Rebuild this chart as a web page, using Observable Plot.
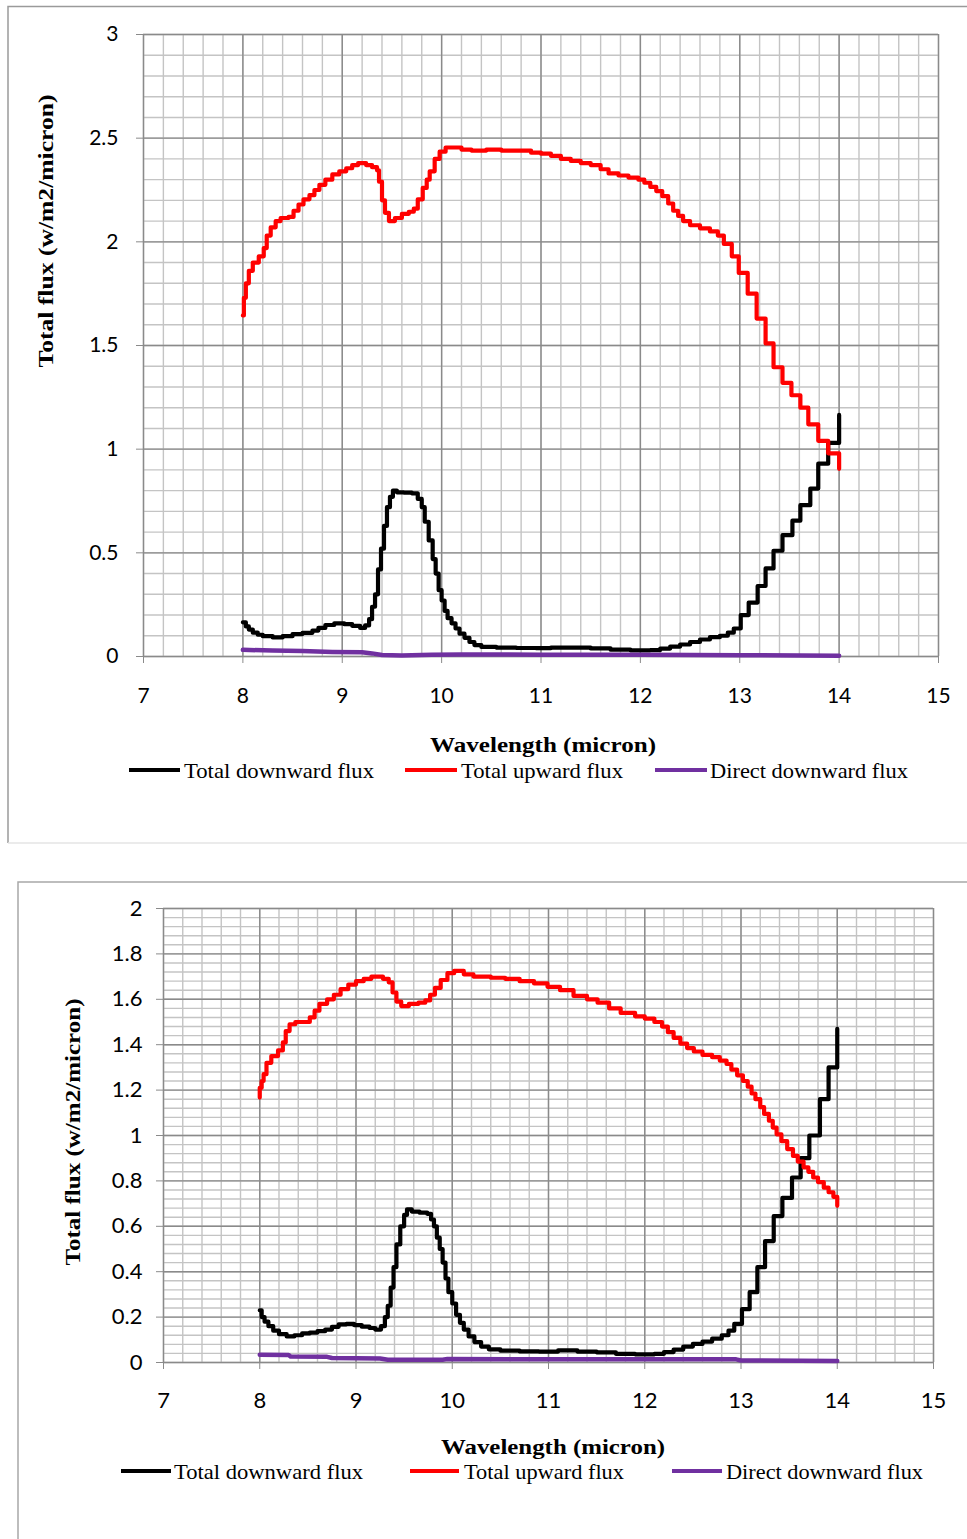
<!DOCTYPE html>
<html>
<head>
<meta charset="utf-8">
<script src="https://cdn.jsdelivr.net/npm/d3@7"></script>
<script src="https://cdn.jsdelivr.net/npm/@observablehq/plot@0.6"></script>
<style>
  html, body { margin: 0; padding: 0; background: #fff; }
  body { width: 967px; height: 1539px; position: relative; overflow: hidden; }
  .chart { position: absolute; left: 0; }
  #overlay { position: absolute; left: 0; top: 0; pointer-events: none; }
</style>
</head>
<body>
<div id="top" class="chart" style="top:0px"></div>
<div id="bottom" class="chart" style="top:870px"></div>
<svg id="overlay" width="967" height="1539"></svg>
<script>
// ---- shared axis values ----
const xTicks = [7, 8, 9, 10, 11, 12, 13, 14, 15];
const yTicksTop = [0, 0.5, 1, 1.5, 2, 2.5, 3];
const yTicksBottom = [0, 0.2, 0.4, 0.6, 0.8, 1, 1.2, 1.4, 1.6, 1.8, 2];

// ---- upper panel: [wavelength (micron), flux (W/m2/micron)] ----
const topDownward = [
  [8.00,0.165],[8.03,0.145],[8.06,0.13],[8.10,0.115],[8.15,0.105],[8.20,0.098],[8.30,0.092],
  [8.40,0.098],[8.50,0.108],[8.60,0.114],[8.70,0.125],[8.76,0.138],[8.83,0.152],[8.92,0.16],
  [9.02,0.156],[9.10,0.148],[9.18,0.138],[9.23,0.15],[9.27,0.18],[9.30,0.24],[9.33,0.30],
  [9.36,0.42],[9.39,0.52],[9.42,0.63],[9.45,0.72],[9.48,0.77],[9.51,0.80],[9.55,0.792],
  [9.62,0.79],[9.70,0.787],[9.76,0.76],[9.80,0.72],[9.83,0.65],[9.87,0.56],[9.91,0.47],
  [9.94,0.40],[9.97,0.32],[10.00,0.27],[10.03,0.22],[10.06,0.185],[10.10,0.16],[10.14,0.135],
  [10.18,0.11],[10.23,0.09],[10.28,0.07],[10.33,0.055],[10.40,0.046],[10.55,0.043],[10.75,0.041],
  [10.95,0.040],[11.10,0.043],[11.30,0.043],[11.50,0.039],[11.70,0.033],[11.90,0.030],[12.10,0.031],
  [12.20,0.038],[12.30,0.048],[12.40,0.058],[12.50,0.07],[12.60,0.082],[12.70,0.093],[12.80,0.10],
  [12.88,0.115],[12.94,0.135],[13.01,0.20],[13.09,0.26],[13.18,0.34],[13.26,0.425],[13.34,0.51],
  [13.43,0.585],[13.53,0.655],[13.61,0.73],[13.71,0.81],[13.79,0.93],[13.89,1.03],[14.00,1.165]
];
const topUpward = [
  [8.00,1.645],[8.01,1.73],[8.03,1.80],[8.06,1.86],[8.10,1.90],[8.16,1.93],[8.21,1.97],[8.24,2.03],
  [8.28,2.07],[8.33,2.10],[8.38,2.115],[8.46,2.12],[8.51,2.15],[8.56,2.18],[8.61,2.205],[8.67,2.225],
  [8.72,2.25],[8.77,2.275],[8.83,2.30],[8.90,2.325],[8.97,2.34],[9.04,2.355],[9.10,2.37],[9.16,2.38],
  [9.24,2.37],[9.30,2.36],[9.35,2.345],[9.37,2.29],[9.40,2.20],[9.43,2.14],[9.47,2.10],[9.53,2.115],
  [9.60,2.135],[9.67,2.145],[9.72,2.16],[9.76,2.205],[9.81,2.26],[9.85,2.30],[9.88,2.34],[9.93,2.40],
  [9.98,2.435],[10.04,2.455],[10.10,2.455],[10.20,2.445],[10.30,2.44],[10.45,2.445],[10.60,2.44],
  [10.75,2.44],[10.90,2.43],[11.00,2.425],[11.10,2.415],[11.20,2.40],[11.30,2.39],[11.40,2.38],
  [11.50,2.37],[11.60,2.35],[11.68,2.33],[11.78,2.32],[11.88,2.31],[11.98,2.30],[12.04,2.285],
  [12.10,2.265],[12.16,2.245],[12.22,2.22],[12.28,2.185],[12.33,2.15],[12.38,2.125],[12.43,2.10],
  [12.50,2.08],[12.60,2.065],[12.70,2.05],[12.78,2.03],[12.84,1.99],[12.92,1.93],[12.99,1.85],
  [13.08,1.75],[13.17,1.63],[13.26,1.51],[13.34,1.395],[13.43,1.32],[13.52,1.26],[13.61,1.20],
  [13.69,1.12],[13.79,1.04],[13.89,0.98],[14.00,0.905]
];
const topDirect = [
  [8.00,0.032],[8.30,0.029],[8.60,0.026],[8.90,0.022],[9.20,0.02],[9.30,0.015],[9.40,0.007],
  [9.60,0.005],[9.90,0.008],[10.20,0.01],[11.00,0.009],[12.00,0.008],[13.00,0.006],[14.00,0.004]
];

// ---- lower panel ----
const bottomDownward = [
  [8.00,0.23],[8.02,0.20],[8.05,0.18],[8.09,0.16],[8.14,0.14],[8.20,0.125],[8.28,0.115],[8.36,0.12],
  [8.44,0.128],[8.52,0.132],[8.60,0.138],[8.68,0.145],[8.75,0.157],[8.82,0.168],[8.90,0.17],
  [8.98,0.165],[9.06,0.158],[9.14,0.152],[9.20,0.145],[9.26,0.16],[9.30,0.20],[9.33,0.25],
  [9.36,0.33],[9.39,0.42],[9.42,0.52],[9.46,0.60],[9.50,0.65],[9.53,0.675],[9.58,0.665],
  [9.66,0.66],[9.74,0.655],[9.78,0.63],[9.81,0.60],[9.84,0.55],[9.87,0.50],[9.90,0.44],
  [9.93,0.37],[9.96,0.31],[10.00,0.26],[10.04,0.21],[10.08,0.175],[10.12,0.145],[10.17,0.115],
  [10.23,0.09],[10.30,0.07],[10.38,0.058],[10.50,0.052],[10.70,0.049],[10.90,0.048],[11.10,0.053],
  [11.30,0.048],[11.50,0.045],[11.70,0.038],[11.90,0.036],[12.10,0.038],[12.20,0.046],[12.30,0.057],
  [12.40,0.07],[12.50,0.082],[12.60,0.092],[12.70,0.105],[12.80,0.12],[12.87,0.14],[12.93,0.17],
  [13.01,0.235],[13.09,0.31],[13.17,0.42],[13.25,0.535],[13.34,0.645],[13.43,0.725],[13.53,0.815],
  [13.62,0.90],[13.71,1.00],[13.82,1.16],[13.91,1.30],[14.00,1.47]
];
const bottomUpward = [
  [8.00,1.167],[8.00,1.21],[8.02,1.24],[8.04,1.27],[8.07,1.32],[8.12,1.35],[8.19,1.375],[8.24,1.41],
  [8.27,1.46],[8.31,1.49],[8.37,1.50],[8.46,1.50],[8.52,1.52],[8.57,1.55],[8.62,1.58],[8.70,1.60],
  [8.77,1.62],[8.84,1.645],[8.92,1.665],[9.00,1.68],[9.08,1.69],[9.16,1.70],[9.28,1.69],[9.34,1.675],
  [9.38,1.63],[9.42,1.59],[9.47,1.57],[9.55,1.58],[9.65,1.585],[9.72,1.595],[9.77,1.62],[9.82,1.65],
  [9.88,1.685],[9.95,1.715],[10.02,1.725],[10.12,1.71],[10.22,1.70],[10.40,1.695],[10.55,1.69],
  [10.70,1.68],[10.85,1.67],[10.99,1.655],[11.12,1.64],[11.26,1.615],[11.40,1.60],[11.51,1.585],
  [11.63,1.56],[11.75,1.54],[11.90,1.525],[12.00,1.515],[12.10,1.50],[12.18,1.48],[12.24,1.455],
  [12.30,1.43],[12.37,1.405],[12.44,1.385],[12.51,1.37],[12.60,1.355],[12.70,1.345],[12.78,1.33],
  [12.85,1.315],[12.90,1.29],[12.96,1.265],[13.02,1.24],[13.07,1.215],[13.11,1.185],[13.15,1.16],
  [13.20,1.125],[13.24,1.095],[13.29,1.065],[13.33,1.035],[13.37,1.005],[13.42,0.975],[13.48,0.94],
  [13.54,0.91],[13.59,0.885],[13.65,0.86],[13.70,0.84],[13.75,0.815],[13.80,0.795],[13.86,0.77],
  [13.91,0.75],[13.96,0.73],[14.00,0.69]
];
const bottomDirect = [
  [8.00,0.034],[8.30,0.033],[8.32,0.026],[8.70,0.025],[8.75,0.02],[9.25,0.018],[9.33,0.012],
  [9.90,0.012],[9.95,0.015],[12.95,0.014],[13.00,0.009],[14.00,0.007]
];

const seriesNames = ["Total downward flux", "Total upward flux", "Direct downward flux"];
const seriesColors = ["#000000", "#ff0000", "#7030a0"];

const minorGrid = {stroke: "#c4c4c4", strokeOpacity: 1, strokeWidth: 1.4};
const majorGrid = {stroke: "#8a8a8a", strokeOpacity: 1, strokeWidth: 1.4};
const tickFont = "Lato, 'Open Sans', sans-serif";

function fluxPanel(cfg) {
  const xMinor = d3.range(35, 76).map(i => i / 5);
  const yMinor = d3.range(0, cfg.yMinorCount + 1).map(i => +(i * cfg.yMinorStep).toFixed(4));
  return Plot.plot({
    width: 967,
    height: cfg.height,
    marginTop: cfg.marginTop,
    marginBottom: cfg.marginBottom,
    marginLeft: cfg.marginLeft,
    marginRight: cfg.marginRight,
    x: {domain: [7, 15]},
    y: {domain: cfg.yDomain},
    style: {background: "transparent", fontFamily: tickFont, fontSize: cfg.fontSize, color: "#000", overflow: "visible"},
    marks: [
      Plot.gridX(xMinor, minorGrid),
      Plot.gridY(yMinor, minorGrid),
      Plot.gridX(xTicks, majorGrid),
      Plot.gridY(cfg.yTicks, majorGrid),
      Plot.axisX(xTicks, {tickSize: 7, tickPadding: cfg.xPad, stroke: "#8a8a8a", fill: "#000", label: null, tickFormat: d => String(d)}),
      Plot.axisY(cfg.yTicks, {tickSize: 7, tickPadding: cfg.yPad, stroke: "#8a8a8a", fill: "#000", label: null, tickFormat: d => String(d)}),
      Plot.line(cfg.down, {x: d => d[0], y: d => d[1], stroke: seriesColors[0], strokeWidth: 4.2, curve: "step-after"}),
      Plot.line(cfg.up, {x: d => d[0], y: d => d[1], stroke: seriesColors[1], strokeWidth: 4.2, curve: "step-after"}),
      Plot.line(cfg.direct, {x: d => d[0], y: d => d[1], stroke: seriesColors[2], strokeWidth: 4.5})
    ]
  });
}

document.getElementById("top").append(fluxPanel({
  height: 700, marginTop: 34, marginBottom: 44, marginLeft: 143, marginRight: 29,
  yDomain: [0, 3], yTicks: yTicksTop, yMinorStep: 0.1, yMinorCount: 30,
  xPad: 25, yPad: 18, fontSize: "21px",
  down: topDownward, up: topUpward, direct: topDirect
}));

document.getElementById("bottom").append(fluxPanel({
  height: 560, marginTop: 38, marginBottom: 68, marginLeft: 163, marginRight: 34,
  yDomain: [0, 2], yTicks: yTicksBottom, yMinorStep: 0.04, yMinorCount: 50,
  xPad: 23, yPad: 14, fontSize: "22px",
  down: bottomDownward, up: bottomUpward, direct: bottomDirect
}));

// ---- frames, axis titles and legends ----
const svg = d3.select("#overlay");
const serif = "'Liberation Serif', 'DejaVu Serif', serif";

// panel borders
svg.append("path").attr("d", "M8,843 V6.5 H967").attr("fill", "none").attr("stroke", "#9a9a9a").attr("stroke-width", 1.5);
svg.append("path").attr("d", "M8,843 H967").attr("fill", "none").attr("stroke", "#e4e4e4").attr("stroke-width", 1.5);
svg.append("path").attr("d", "M18,1539 V882 H967").attr("fill", "none").attr("stroke", "#a8a8a8").attr("stroke-width", 1.5);

function title(text, x, y, len, rotate) {
  svg.append("text")
    .attr("transform", `translate(${x},${y})` + (rotate ? " rotate(-90)" : ""))
    .attr("text-anchor", "middle")
    .attr("font-family", serif)
    .attr("font-weight", "bold")
    .attr("font-size", 21)
    .attr("textLength", len)
    .attr("lengthAdjust", "spacingAndGlyphs")
    .text(text);
}

title("Total flux  (w/m2/micron)", 53, 231, 273, true);
title("Wavelength (micron)", 543, 752, 226, false);
title("Total flux (w/m2/micron)", 80, 1132, 267, true);
title("Wavelength (micron)", 553, 1454, 224, false);

function legend(y, items) {
  items.forEach((it, i) => {
    svg.append("line")
      .attr("x1", it.x1).attr("x2", it.x2).attr("y1", y).attr("y2", y)
      .attr("stroke", seriesColors[i]).attr("stroke-width", 4);
    svg.append("text")
      .attr("x", it.tx).attr("y", y + 8)
      .attr("font-family", serif)
      .attr("font-size", 21)
      .attr("textLength", it.len)
      .attr("lengthAdjust", "spacingAndGlyphs")
      .text(seriesNames[i]);
  });
}

legend(770, [
  {x1: 129, x2: 180, tx: 184, len: 190},
  {x1: 405, x2: 457, tx: 461, len: 162},
  {x1: 655, x2: 707, tx: 710, len: 198}
]);
legend(1471, [
  {x1: 121, x2: 171, tx: 174, len: 189},
  {x1: 410, x2: 459, tx: 464, len: 160},
  {x1: 672, x2: 722, tx: 726, len: 197}
]);
</script>
</body>
</html>
